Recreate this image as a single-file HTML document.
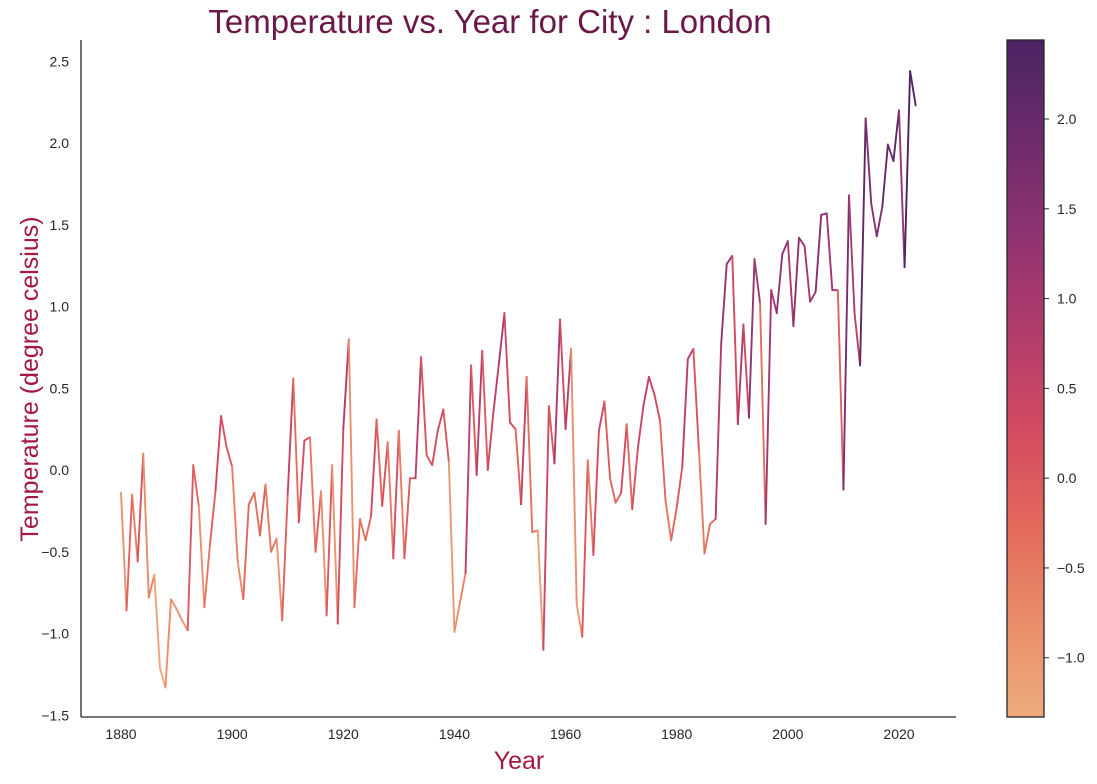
<!DOCTYPE html>
<html><head><meta charset="utf-8"><style>
body{margin:0;background:#fff;}
svg{display:block;font-family:"Liberation Sans","DejaVu Sans",sans-serif;}
</style></head><body>
<svg id="chart" width="1097" height="784" viewBox="0 0 1097 784">
<defs>
<linearGradient id="cbgrad" x1="0" y1="1" x2="0" y2="0">
<stop offset="0" stop-color="#eeab7c"/><stop offset="0.143" stop-color="#e98d6b"/><stop offset="0.286" stop-color="#e3685c"/><stop offset="0.429" stop-color="#d14a61"/><stop offset="0.571" stop-color="#b13c6c"/><stop offset="0.714" stop-color="#8f3371"/><stop offset="0.857" stop-color="#6c2b6d"/><stop offset="1" stop-color="#4b2362"/>
</linearGradient>
</defs>
<text x="490" y="33" text-anchor="middle" font-size="33" fill="#6b1848">Temperature vs. Year for City : London</text>
<text x="519" y="769" text-anchor="middle" font-size="25" fill="#a3193f">Year</text>
<text transform="translate(38,379) rotate(-90)" text-anchor="middle" font-size="25" fill="#a3193f">Temperature (degree celsius)</text>
<g id="yticks"></g>
<g id="xticks"></g>
<g id="lines"></g>
<line x1="81" y1="40" x2="81" y2="717" stroke="#262626" stroke-width="1.3"/>
<line x1="81" y1="717" x2="956" y2="717" stroke="#262626" stroke-width="1.3"/>
<rect x="1007" y="40" width="37" height="677" fill="url(#cbgrad)" stroke="#262626" stroke-width="1.3"/>
<g id="cbticks"></g>
</svg>
<script>
const years = [];
for (let y = 1880; y <= 2023; y++) years.push(y);
const temps = [-0.14,-0.86,-0.15,-0.56,0.10,-0.78,-0.64,-1.21,-1.33,-0.79,-0.85,-0.92,-0.98,0.03,-0.22,-0.84,-0.46,-0.13,0.33,0.14,
0.02,-0.56,-0.79,-0.21,-0.14,-0.40,-0.09,-0.50,-0.42,-0.92,-0.15,0.56,-0.32,0.18,0.20,-0.50,-0.13,-0.89,0.03,-0.94,
0.25,0.80,-0.84,-0.30,-0.43,-0.28,0.31,-0.22,0.17,-0.54,0.24,-0.54,-0.05,-0.05,0.69,0.09,0.03,0.24,0.37,0.05,
-0.99,-0.81,-0.63,0.64,-0.03,0.73,0.00,0.35,0.65,0.96,0.29,0.25,-0.21,0.57,-0.38,-0.37,-1.10,0.39,0.04,0.92,
0.25,0.74,-0.82,-1.02,0.06,-0.52,0.24,0.42,-0.05,-0.20,-0.14,0.28,-0.24,0.13,0.39,0.57,0.46,0.30,-0.19,-0.43,
-0.23,0.02,0.68,0.74,0.12,-0.51,-0.33,-0.30,0.77,1.26,1.31,0.28,0.89,0.32,1.29,1.02,-0.33,1.10,0.96,1.32,
1.40,0.88,1.42,1.37,1.03,1.09,1.56,1.57,1.10,1.10,-0.12,1.68,0.96,0.64,2.15,1.63,1.43,1.61,1.99,1.89,
2.20,1.24,2.44,2.23];
const yTickVals = [-1.5,-1.0,-0.5,0.0,0.5,1.0,1.5,2.0,2.5];
const xTickVals = [1880,1900,1920,1940,1960,1980,2000,2020];
const cbTickVals = [-1.0,-0.5,0.0,0.5,1.0,1.5,2.0];
const NS='http://www.w3.org/2000/svg';
const xS = v => 121 + (v-1880)*778/140;
const yS = v => 470 - v*163.5;
const vmin = Math.min(...temps), vmax = Math.max(...temps);
const cbY = v => 717 - (v-vmin)/(vmax-vmin)*677;
const stops = ['#eeab7c','#e98d6b','#e3685c','#d14a61','#b13c6c','#8f3371','#6c2b6d','#4b2362'].map(h=>[parseInt(h.substr(1,2),16),parseInt(h.substr(3,2),16),parseInt(h.substr(5,2),16)]);
function cmap(v){let t=(v-vmin)/(vmax-vmin);t=Math.max(0,Math.min(1,t))*(stops.length-1);const i=Math.min(Math.floor(t),stops.length-2),f=t-i;const c=stops[i].map((a,k)=>Math.round(a+(stops[i+1][k]-a)*f));return `rgb(${c.join(',')})`;}
const fmt = v => (v<0?'\u2212':'')+Math.abs(v).toFixed(1);
function mk(tag, attrs, parent, txt){const e=document.createElementNS(NS,tag);for(const k in attrs)e.setAttribute(k,attrs[k]);if(txt!==undefined)e.textContent=txt;parent.appendChild(e);return e;}
const gy=document.getElementById('yticks');
yTickVals.forEach(v=>{const t=mk('text',{x:69,y:yS(v)+5,'text-anchor':'end','font-size':14,fill:'#262626'},gy,fmt(v));

});
const gx=document.getElementById('xticks');
xTickVals.forEach(v=>{const t=mk('text',{x:xS(v),y:739,'text-anchor':'middle','font-size':14,fill:'#262626'},gx,String(v));

});
const gl=document.getElementById('lines');
for(let i=1;i<temps.length;i++){
const l=mk('line',{x1:xS(years[i-1]),y1:yS(temps[i-1]),x2:xS(years[i]),y2:yS(temps[i]),stroke:cmap(temps[i]),'stroke-width':1.9,'stroke-linecap':'round'},gl);

}
const gc=document.getElementById('cbticks');
cbTickVals.forEach(v=>{const y=cbY(v);
const tk=mk('line',{x1:1044,y1:y,x2:1049,y2:y,stroke:'#262626','stroke-width':1},gc);


const t=mk('text',{x:1057,y:y+5,'font-size':14,fill:'#262626'},gc,fmt(v));

});
</script>
</body></html>
